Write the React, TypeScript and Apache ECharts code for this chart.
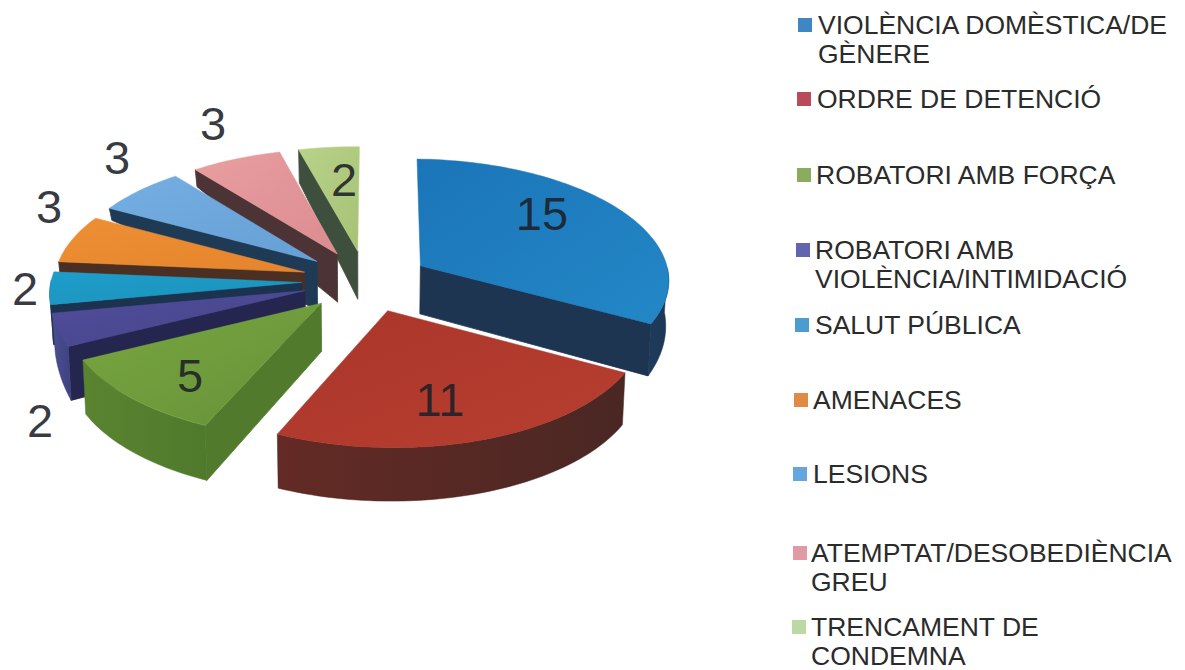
import React, { useEffect, useRef } from "react";
import * as echarts from "echarts";

const categories = [
  "VIOLÈNCIA DOMÈSTICA/DE\nGÈNERE",
  "ORDRE DE DETENCIÓ",
  "ROBATORI AMB FORÇA",
  "ROBATORI AMB\nVIOLÈNCIA/INTIMIDACIÓ",
  "SALUT PÚBLICA",
  "AMENACES",
  "LESIONS",
  "ATEMPTAT/DESOBEDIÈNCIA\nGREU",
  "TRENCAMENT DE\nCONDEMNA",
];
const values = [15, 11, 5, 2, 2, 3, 3, 3, 2];

// styles
const topColors = [
  ["#1b75b8", "#2387c6"], ["#a93529", "#b83f31"], ["#79a63f", "#66923a"],
  ["#514c9c", "#464688"], ["#1f9ccb", "#1a93b8"], ["#ee8f35", "#e4842c"],
  ["#74aee2", "#669fd4"], ["#e89ea0", "#dc8c90"], ["#b8d38a", "#a6c274"],
];
const wallColors = ["#1e3552", "#4e2a25", "#517a2d", "#25264f", "#1c3350", "#4a2f22", "#1f3a55", "#4c3335", "#3f4f3d"];
const arcColors = [
  ["#1f3c5d", "#1d3654"], ["#642a25", "#4a2723"], ["#5a8430", "#4f7a2c"],
  ["#4a4f90", "#3e4280"], ["#1c3350", "#1c3350"], ["#4a2f22", "#4a2f22"],
  ["#1f3a55", "#1f3a55"], ["#4c3335", "#4c3335"], ["#3f4f3d", "#3f4f3d"],
];
const legendColors = ["#3f87c3", "#b84a5a", "#8bab5f", "#6065ad", "#4c9cd0", "#e08a45", "#65a6dc", "#e09aa4", "#bcd8a4"];

// layout
const drawRank = [8, 9, 7, 6, 5, 4, 3, 2, 1];
const wallDepths = [[17, 52], [52, 54], [55, 54], [54, 40], [40, 40], [30, 30], [12, 12], [17, 17], [33, 33]];
const labelAt = [[542, 213], [440, 399], [190, 375], [40, 420], [25, 288], [49, 206], [117, 157], [213, 123], [344, 179]];
const legendIconX = [798, 797, 797, 796, 795, 794, 793, 793, 792];
const legendTextX = [818, 817, 816, 815, 815, 813, 813, 811, 811];
const legendCenterY = [25, 99, 175, 250, 325, 400, 474, 553, 627];

const CX = 366, CY = 281, R = 250, RQ = 119, PERSP = 0.09, EXPLODE = 0.257, APEX_DEPTH = 48, CONVERGE = 0.99, TILT = 0.01;
const D2R = Math.PI / 180;

const total = values.reduce((a, b) => a + b, 0);
function sliceAngles(i: number) {
  let before = 0;
  for (let k = 0; k < i; k++) before += values[k];
  return [(before / total) * 360, ((before + values[i]) / total) * 360];
}
function project(U: number, V: number): number[] {
  const p = 1 / (1 + PERSP * V);
  const dx = R * U * p;
  const dy = -RQ * V * p;
  return [CX + dx - TILT * dy, CY + dy + TILT * dx];
}
const lower = (pt: number[], d: number) => [CX + (pt[0] - CX) * CONVERGE, pt[1] + d];

function renderSlice(i: number, params: any, api: any) {
  const value = api.value(0);
  const [ts, te] = sliceAngles(i);
  const mid = ((ts + te) / 2) * D2R;
  const ou = EXPLODE * Math.sin(mid), ov = EXPLODE * Math.cos(mid);
  const apex = project(ou, ov);
  const at = (deg: number) => project(ou + Math.sin(deg * D2R), ov + Math.cos(deg * D2R));
  const [ds, de] = wallDepths[i];
  const depthAt = (deg: number) => ds + ((de - ds) * (deg - ts)) / (te - ts);
  const rim: number[][] = [];
  const steps = Math.max(4, Math.ceil((te - ts) / 1.5));
  for (let s = 0; s <= steps; s++) rim.push(at(ts + ((te - ts) * s) / steps));
  const children: any[] = [];

  // cut faces
  const face = (deg: number, depth: number) => {
    const pt = at(deg);
    children.push({
      type: "polygon",
      shape: { points: [apex, pt, lower(pt, depth), lower(apex, APEX_DEPTH)] },
      style: { fill: wallColors[i], stroke: wallColors[i], lineWidth: 0.8 },
    });
  };
  if (Math.cos((ts - 90) * D2R) < -0.001) face(ts, ds);
  if (Math.cos((te + 90) * D2R) < -0.001) face(te, de);

  // outer wall on the part of the rim that faces the viewer
  const a0 = Math.max(ts, 90), a1 = Math.min(te, 270);
  if (a1 > a0) {
    const t: number[][] = [], b: number[][] = [];
    const n = Math.max(3, Math.ceil((a1 - a0) / 1.5));
    for (let s = 0; s <= n; s++) {
      const d = a0 + ((a1 - a0) * s) / n;
      const pt = at(d);
      t.push(pt);
      b.push(lower(pt, depthAt(d)));
    }
    const grad = new echarts.graphic.LinearGradient(1, 0, 0, 0, [
      { offset: 0, color: arcColors[i][1] },
      { offset: 1, color: arcColors[i][0] },
    ]);
    children.push({
      type: "polygon",
      shape: { points: t.concat(b.reverse()) },
      style: { fill: grad, stroke: arcColors[i][1], lineWidth: 0.5 },
    });
  }
  // top surface
  children.push({
    type: "polygon",
    shape: { points: [apex].concat(rim) },
    style: {
      fill: new echarts.graphic.LinearGradient(0, 0, 1, 1, [
        { offset: 0, color: topColors[i][0] },
        { offset: 1, color: topColors[i][1] },
      ]),
      stroke: topColors[i][0],
      lineWidth: 0.5,
    },
  });
  // value label
  children.push({
    type: "text",
    x: labelAt[i][0],
    y: labelAt[i][1],
    z2: 10,
    style: {
      text: String(value),
      fontFamily: '"Liberation Sans", Arial, sans-serif',
      fontSize: 47,
      fill: "rgba(28,32,40,0.88)",
      align: "center",
      verticalAlign: "middle",
    },
  });
  return { type: "group", children };
}

function buildOption() {
  const legendElements: any[] = [];
  categories.forEach((name, i) => {
    legendElements.push({
      type: "rect",
      shape: { x: legendIconX[i], y: legendCenterY[i] - 7, width: 14, height: 14 },
      style: { fill: legendColors[i] },
    });
    legendElements.push({
      type: "text",
      x: legendTextX[i],
      y: legendCenterY[i] - 14.5,
      style: {
        text: name,
        fontFamily: '"Liberation Sans", Arial, sans-serif',
        fontSize: 26.5,
        lineHeight: 29,
        fill: "#2b2b2b",
        verticalAlign: "top",
        align: "left",
      },
    });
  });
  return {
    animation: false,
    backgroundColor: "#ffffff",
    graphic: { elements: legendElements },
    series: categories.map((name, i) => ({
      type: "custom",
      name,
      coordinateSystem: "none",
      z: drawRank[i],
      silent: true,
      data: [[values[i]]],
      renderItem: (params: any, api: any) => renderSlice(i, params, api),
    })),
  };
}

export default function App() {
  const ref = useRef<HTMLDivElement>(null);
  useEffect(() => {
    const chart = echarts.init(ref.current!, null, { renderer: "svg" });
    chart.setOption(buildOption() as any);
    return () => chart.dispose();
  }, []);
  return <div ref={ref} style={{ position: "fixed", left: 0, top: 0, width: 1185, height: 670 }} />;
}
